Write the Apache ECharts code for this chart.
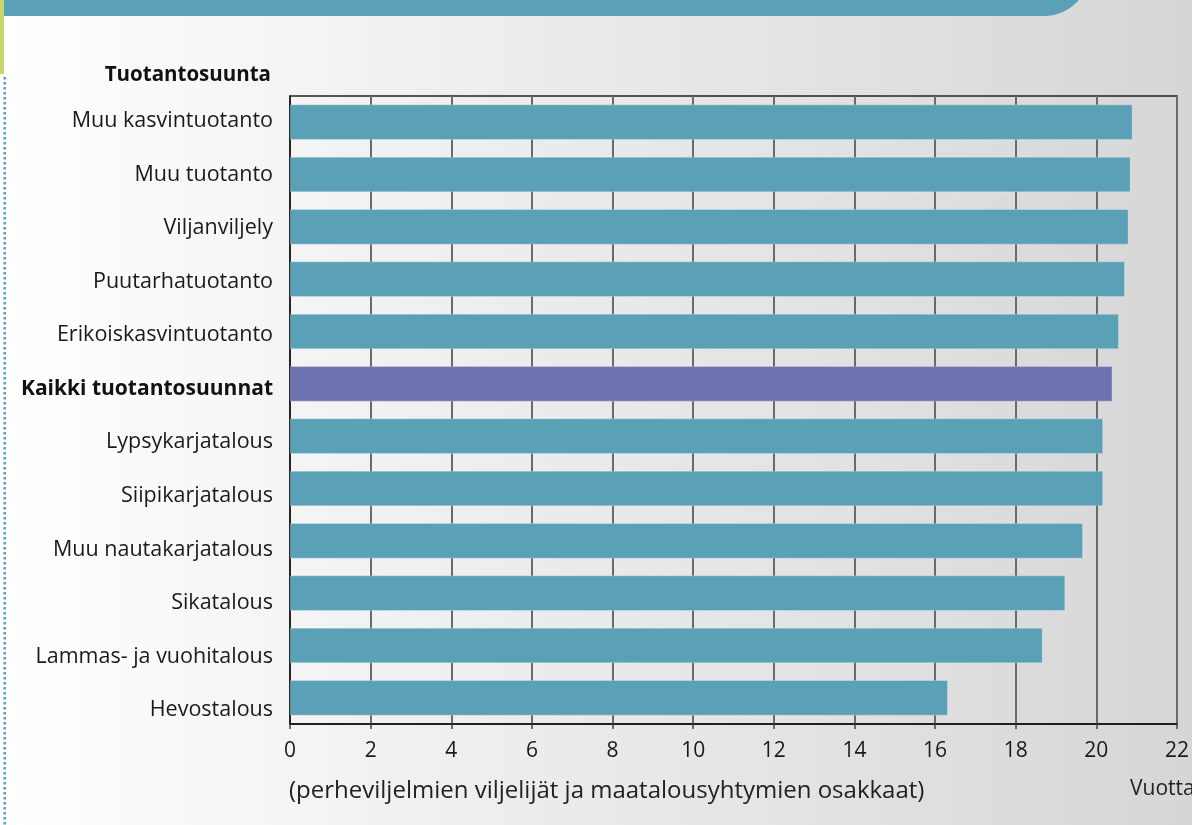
<!DOCTYPE html>
<html><head><meta charset="utf-8">
<script src="https://cdn.jsdelivr.net/npm/echarts@6/dist/echarts.min.js"></script>
<style>html,body{margin:0;padding:0;}#c{width:1192px;height:825px;}</style>
</head><body><div id="c"></div>
<script>
const categories = ['Muu kasvintuotanto','Muu tuotanto','Viljanviljely','Puutarhatuotanto','Erikoiskasvintuotanto','Kaikki tuotantosuunnat','Lypsykarjatalous','Siipikarjatalous','Muu nautakarjatalous','Sikatalous','Lammas- ja vuohitalous','Hevostalous'];
const values = [20.90, 20.85, 20.80, 20.71, 20.56, 20.40, 20.17, 20.17, 19.67, 19.23, 18.67, 16.32];
const highlight = 'Kaikki tuotantosuunnat';
const axisTitle = 'Tuotantosuunta';
const xNote = '(perheviljelmien viljelijät ja maatalousyhtymien osakkaat)';
const unit = 'Vuotta';

const FONT = 'Open Sans';
const chart = echarts.init(document.getElementById('c'));
chart.setOption({
  animation: false,
  backgroundColor: {type:'linear', x:0, y:0, x2:1, y2:0, colorStops:[{offset:0,color:'#ffffff'},{offset:0.3,color:'#f2f2f2'},{offset:1,color:'#d6d6d6'}]},
  graphic: [
    {type:'rect', shape:{x:-20, y:-40, width:1110, height:56, r:[0,0,46,0]}, style:{fill:'#5aa1b7'}, z:0},
    {type:'rect', shape:{x:0, y:0, width:4, height:74}, style:{fill:'#c8d96b'}, z:1},
    {type:'line', shape:{x1:4.7, y1:77, x2:4.7, y2:825}, style:{stroke:'#5aa1b7', lineWidth:2.6, lineDash:[2.4,2.6]}, z:1},
    {type:'text', x:271, y:75, style:{text:axisTitle, font:'bold 20.5px "Open Sans"', fill:'#111', align:'right', verticalAlign:'middle'}},
    {type:'text', x:289, y:791, style:{text:xNote, font:'24px "Open Sans"', fill:'#222', align:'left', verticalAlign:'middle'}},
    {type:'text', x:1130, y:789, style:{text:unit, font:'21px "Open Sans"', fill:'#222', align:'left', verticalAlign:'middle'}}
  ],
  grid: [
    {left:290, right:14, top:96, bottom:101, show:true, borderColor:'#222', borderWidth:1.5, backgroundColor:'transparent'},
    {left:290, right:14, top:94.2, bottom:88.2, show:false}
  ],
  xAxis: [{
    type:'value', min:0, max:22, interval:2,
    axisLine:{show:true, lineStyle:{color:'#111', width:1.5}},
    axisTick:{show:true, length:5, lineStyle:{color:'#444', width:1.5}},
    axisLabel:{color:'#1a1a1a', fontFamily:FONT, fontSize:21, margin:17},
    splitLine:{show:true, lineStyle:{color:'#6a6a6a', width:2}}
  }, {
    gridIndex:1, type:'value', show:false, min:0, max:22
  }],
  yAxis: [{
    type:'category', data:categories, inverse:true,
    axisLine:{show:true, lineStyle:{color:'#111', width:1.5}},
    axisTick:{show:false},
    axisLabel:{show:false}
  }, {
    gridIndex:1, type:'category', data:categories, inverse:true,
    axisLine:{show:false}, axisTick:{show:false}, splitLine:{show:false},
    axisLabel:{
      margin:17, fontFamily:FONT, fontSize:21.5, color:'#1a1a1a',
      formatter: v => v === highlight ? '{b|' + v + '}' : v,
      rich:{b:{fontWeight:'bold', fontFamily:FONT, fontSize:21, color:'#111'}}
    }
  }],
  series: [{
    type:'bar', xAxisIndex:0, yAxisIndex:0,
    data: values.map((v,i) => ({value:v, itemStyle:{color: categories[i]===highlight ? '#6e71b0' : '#5aa1b7'}})),
    barCategoryGap:'32%',
    itemStyle:{borderColor:'rgba(255,255,255,0.25)', borderWidth:1},
    z:2
  }]
});
</script></body></html>
